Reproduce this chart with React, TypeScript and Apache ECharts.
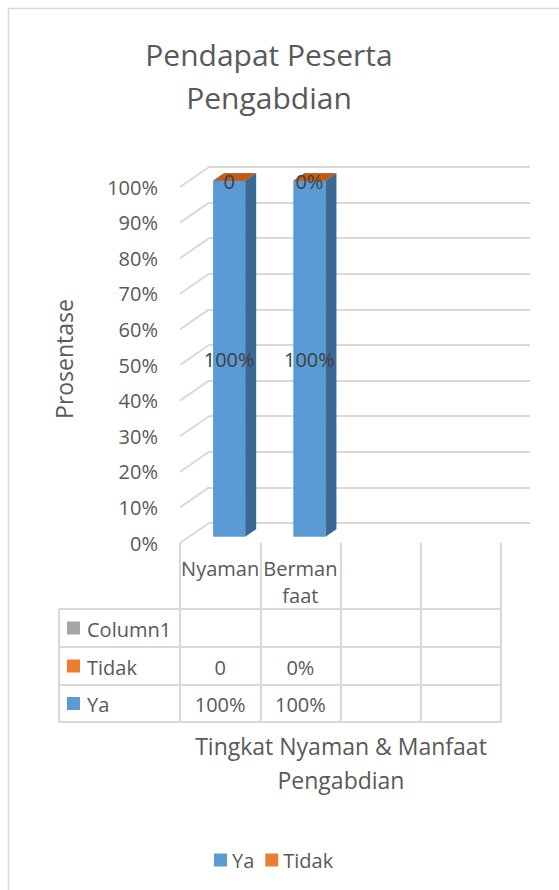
import React, { useEffect, useRef } from "react";
import * as echarts from "echarts";

const categories = ["Nyaman", "Bermanfaat", "", ""];
const yaValues = [1, 1];
const tidakValues = [0, 0];
const yaLabels = ["100%", "100%"];
const tidakLabels = ["0", "0%"];
const column1Labels = ["", ""];
const yTicks = [0, 0.1, 0.2, 0.3, 0.4, 0.5, 0.6, 0.7, 0.8, 0.9, 1];
const seriesNames = ["Ya", "Tidak"];

const F = '"Open Sans", sans-serif';
const TXT = "#595959";
const GRID = { left: 180, top: 187, width: 321, height: 356 };
const DX = 29;
const DY = -20;
const LINE = "#d9d9d9";

export default function App() {
  const ref = useRef<HTMLDivElement>(null);
  useEffect(() => {
    if (!ref.current) return;
    const chart = echarts.init(ref.current, undefined, { renderer: "svg" });

    const colW = GRID.width / categories.length;

    const barRender = (colorFront: string, colorSide: string, colorTop: string, labels: string[]) =>
      (params: any, api: any) => {
        const idx = api.value(0);
        const base = api.value(1);
        const top = api.value(2);
        const p0 = api.coord([idx, base]);
        const p1 = api.coord([idx, top]);
        const band = api.size([1, 0])[0];
        const w = band * 0.4;
        const ox = DX * 0.31, oy = DY * 0.31;
        const dx = DX * 0.38, dy = DY * 0.38;
        const xl = p0[0] - w / 2 + ox;
        const xr = xl + w;
        const yb = p0[1] + oy;
        const yt = p1[1] + oy;
        return {
          type: "group",
          children: [
            { type: "rect", shape: { x: xl, y: yt, width: w, height: yb - yt }, style: { fill: colorFront } },
            {
              type: "polygon",
              shape: { points: [[xr, yb], [xr + dx, yb + dy], [xr + dx, yt + dy], [xr, yt]] },
              style: { fill: colorSide },
            },
            {
              type: "polygon",
              shape: { points: [[xl, yt], [xr, yt], [xr + dx, yt + dy], [xl + dx, yt + dy]] },
              style: { fill: colorTop },
            },
            {
              type: "text",
              x: (xl + xr) / 2,
              y: (yt + yb) / 2 + 1,
              style: {
                text: labels[params.dataIndex],
                fill: "#404040",
                font: `20px ${F}`,
                align: "center",
                verticalAlign: "middle",
              },
            },
          ],
        };
      };

    const yaData = yaValues.map((v, i) => [i, 0, v]);
    const tidakData = tidakValues.map((v, i) => [i, yaValues[i], yaValues[i] + v]);

    const graphic: any[] = [
      {
        type: "rect",
        shape: { x: 8.5, y: 8.5, width: 700, height: 1000 },
        style: { fill: "none", stroke: LINE, lineWidth: 1.5 },
        z: -10,
      },
      { type: "text", x: 269, y: 54, style: { text: "Pendapat Peserta", font: `30px ${F}`, fill: TXT, align: "center", verticalAlign: "middle" } },
      { type: "text", x: 269, y: 97, style: { text: "Pengabdian", font: `30px ${F}`, fill: TXT, align: "center", verticalAlign: "middle" } },
      {
        type: "text",
        x: 64,
        y: 359,
        rotation: Math.PI / 2,
        style: { text: "Prosentase", font: `23px ${F}`, fill: TXT, align: "center", verticalAlign: "middle" },
      },
      { type: "text", x: 341, y: 746, style: { text: "Tingkat Nyaman & Manfaat", font: `23px ${F}`, fill: TXT, align: "center", verticalAlign: "middle" } },
      { type: "text", x: 341, y: 780, style: { text: "Pengabdian", font: `23px ${F}`, fill: TXT, align: "center", verticalAlign: "middle" } },
    ];

    const rowYs = [609, 647, 685, 722];
    rowYs.forEach((y) => {
      graphic.push({ type: "line", shape: { x1: 59, y1: y, x2: GRID.left + GRID.width, y2: y }, style: { stroke: LINE, lineWidth: 2 } });
    });
    graphic.push({ type: "line", shape: { x1: 59, y1: 609, x2: 59, y2: 722 }, style: { stroke: LINE, lineWidth: 2 } });

    const rows = [
      { name: "Column1", color: "#a5a5a5", cells: column1Labels },
      { name: seriesNames[1], color: "#ed7d31", cells: tidakLabels },
      { name: seriesNames[0], color: "#5b9bd5", cells: yaLabels },
    ];
    rows.forEach((r, ri) => {
      const cy = (rowYs[ri] + rowYs[ri + 1]) / 2;
      graphic.push({ type: "rect", shape: { x: 67, y: cy - 6.5, width: 13, height: 13 }, style: { fill: r.color } });
      graphic.push({ type: "text", x: 87, y: cy + 1, style: { text: r.name, font: `20px ${F}`, fill: TXT, align: "left", verticalAlign: "middle" } });
      r.cells.forEach((c, ci) => {
        graphic.push({
          type: "text",
          x: GRID.left + (ci + 0.5) * colW,
          y: cy + 1,
          style: { text: c, font: `20px ${F}`, fill: TXT, align: "center", verticalAlign: "middle" },
        });
      });
    });

    chart.setOption({
      animation: false,
      backgroundColor: "#ffffff",
      textStyle: { fontFamily: F },
      grid: [
        { ...GRID },
        { left: GRID.left + DX, top: GRID.top + DY, width: GRID.width, height: GRID.height },
      ],
      xAxis: [
        {
          type: "category",
          gridIndex: 0,
          data: categories,
          axisLine: { show: false },
          axisTick: { show: true, length: 179, interval: 0, lineStyle: { color: LINE, width: 2 } },
          axisLabel: {
            interval: 0,
            margin: 12,
            fontSize: 20,
            lineHeight: 27,
            color: TXT,
            fontFamily: F,
            formatter: (v: string) => (v.length > 7 ? v.slice(0, 6) + "\n" + v.slice(6) : v),
          },
          splitLine: { show: false },
        },
        { type: "category", gridIndex: 1, data: categories, show: false },
      ],
      yAxis: [
        {
          type: "value",
          gridIndex: 0,
          min: 0,
          max: 1,
          interval: 0.1,
          axisLine: { show: false },
          axisTick: { show: false },
          splitLine: { show: false },
          axisLabel: {
            margin: 22,
            fontSize: 20,
            color: TXT,
            fontFamily: F,
            formatter: (v: number) => Math.round(v * 100) + "%",
          },
        },
        {
          type: "value",
          gridIndex: 1,
          min: 0,
          max: 1,
          interval: 0.1,
          axisLine: { show: false },
          axisTick: { show: false },
          axisLabel: { show: false },
          splitLine: { show: true, lineStyle: { color: LINE, width: 2 } },
        },
      ],
      legend: {
        data: seriesNames,
        left: 209,
        top: 845,
        icon: "rect",
        itemWidth: 13,
        itemHeight: 13,
        itemGap: 11,
        textStyle: { fontSize: 20, color: TXT, fontFamily: F },
      },
      graphic,
      series: [
        {
          name: "wall",
          type: "custom",
          xAxisIndex: 0,
          yAxisIndex: 0,
          silent: true,
          clip: false,
          data: yTicks.map((v) => [0, v]),
          encode: { x: 0, y: 1 },
          renderItem: (params: any, api: any) => {
            const p = api.coord([0, api.value(1)]);
            const x = p[0] - api.size([1, 0])[0] / 2;
            return {
              type: "line",
              shape: { x1: x, y1: p[1], x2: x + DX, y2: p[1] + DY },
              style: { stroke: LINE, lineWidth: 2 },
            };
          },
        },
        {
          name: seriesNames[0],
          type: "custom",
          xAxisIndex: 0,
          yAxisIndex: 0,
          clip: false,
          itemStyle: { color: "#5b9bd5" },
          data: yaData,
          encode: { x: 0, y: [1, 2] },
          renderItem: barRender("#5b9bd5", "#3b6894", "#4a86be", yaLabels),
        },
        {
          name: seriesNames[1],
          type: "custom",
          xAxisIndex: 0,
          yAxisIndex: 0,
          clip: false,
          itemStyle: { color: "#ed7d31" },
          data: tidakData,
          encode: { x: 0, y: [1, 2] },
          renderItem: barRender("#ed7d31", "#ae5a22", "#c55a11", tidakLabels),
        },
      ],
    });
    return () => chart.dispose();
  }, []);
  return <div ref={ref} style={{ position: "fixed", left: 0, top: 0, width: 559, height: 890 }} />;
}
